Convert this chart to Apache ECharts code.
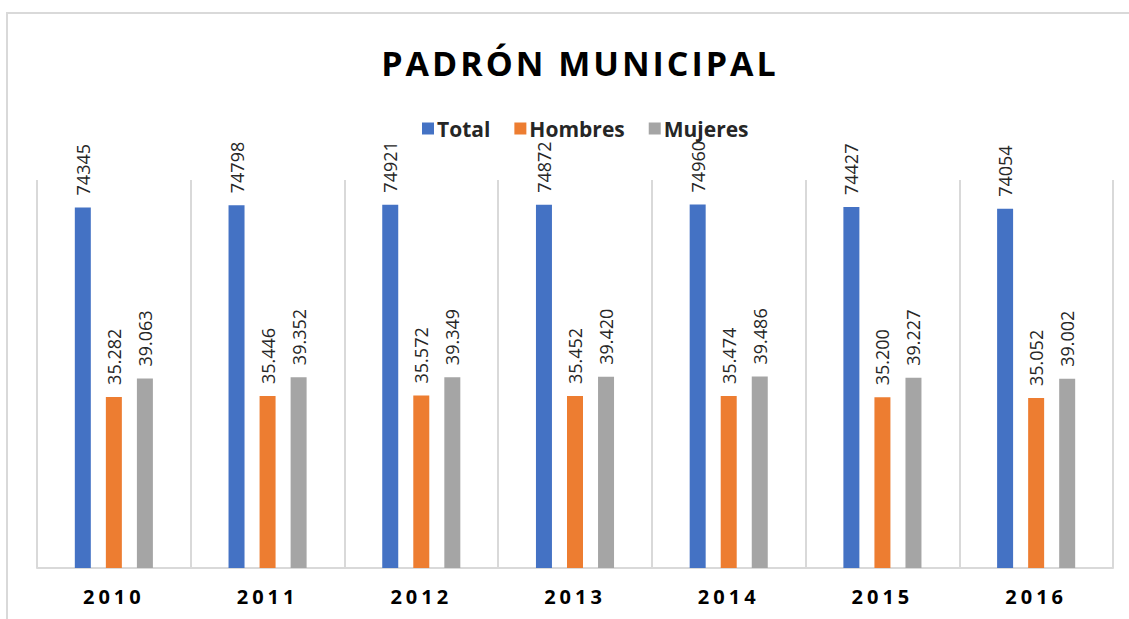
<!DOCTYPE html>
<html>
<head>
<meta charset="utf-8">
<script src="https://cdn.jsdelivr.net/npm/echarts@6/dist/echarts.min.js"></script>
<style>
    html, body { margin: 0; padding: 0; background: #fff; }
    #main { width: 1129px; height: 619px; }
    /* espaciado de letras del título y de los años */
    #main text[style*="34px"] { letter-spacing: 3px; }
    #main text[style*="20px"] { letter-spacing: 4px; }
</style>
</head>
<body>
<div id="main"></div>
<script>
// datos del padrón
var years = ['2010', '2011', '2012', '2013', '2014', '2015', '2016'];
var total = [74345, 74798, 74921, 74872, 74960, 74427, 74054];
var hombres = [35282, 35446, 35572, 35452, 35474, 35200, 35052];
var mujeres = [39063, 39352, 39349, 39420, 39486, 39227, 39002];

// 35282 -> 35.282
function puntoMiles(v) {
    return String(v).replace(/\B(?=(\d{3})+(?!\d))/g, '.');
}

window.onload = function () {
    let chart = echarts.init(document.getElementById('main'), null, { renderer: 'svg' });

    let labelBase = {
        show: true,
        position: 'top',
        rotate: 90,
        align: 'left',
        verticalAlign: 'middle',
        distance: 12,
        color: '#262626',
        fontFamily: 'Open Sans',
        fontSize: 18
    };

    let option = {
        backgroundColor: '#fff',
        animation: false,
        title: {
            text: 'PADRÓN MUNICIPAL',
            left: 575,
            textAlign: 'center',
            top: 41,
            textStyle: {
                fontFamily: 'Open Sans',
                fontWeight: 'bold',
                fontSize: 34,
                color: '#000'
            }
        },
        legend: {
            data: ['Total', 'Hombres', 'Mujeres'],
            left: 417,
            top: 113,
            itemWidth: 12,
            itemHeight: 12,
            itemGap: 24,
            icon: 'rect',
            textStyle: {
                fontFamily: 'Open Sans',
                fontWeight: 'bold',
                fontSize: 21,
                color: '#262626',
                padding: [0, 0, 0, -2]
            }
        },
        grid: {
            left: 37,
            right: 16,
            top: 180,
            bottom: 51
        },
        xAxis: {
            type: 'category',
            data: years,
            axisLine: { lineStyle: { color: '#d9d9d9', width: 2 } },
            axisTick: { show: false },
            splitLine: { show: true, lineStyle: { color: '#d9d9d9', width: 2 } },
            axisLabel: {
                margin: 18,
                color: '#000',
                fontFamily: 'Open Sans',
                fontWeight: 'bold',
                fontSize: 20
            }
        },
        yAxis: {
            type: 'value',
            min: 0,
            max: 80000,
            show: false,
            splitLine: { show: false }
        },
        graphic: [
            {
                type: 'rect',
                shape: { x: 7, y: 13, width: 1200, height: 700 },
                style: { fill: 'none', stroke: '#d9d9d9', lineWidth: 2 },
                silent: true,
                z: -1
            }
        ],
        series: [
            {
                name: 'Total',
                type: 'bar',
                data: total,
                barWidth: 16,
                barGap: '94%',
                itemStyle: { color: '#4472C4' },
                label: labelBase
            },
            {
                name: 'Hombres',
                type: 'bar',
                data: hombres,
                barWidth: 16,
                barGap: '94%',
                itemStyle: { color: '#ED7D31' },
                label: Object.assign({}, labelBase, {
                    formatter: function (p) { return puntoMiles(p.value); }
                })
            },
            {
                name: 'Mujeres',
                type: 'bar',
                data: mujeres,
                barWidth: 16,
                barGap: '94%',
                itemStyle: { color: '#A5A5A5' },
                label: Object.assign({}, labelBase, {
                    formatter: function (p) { return puntoMiles(p.value); }
                })
            }
        ]
    };

    chart.setOption(option);
};
</script>
</body>
</html>
